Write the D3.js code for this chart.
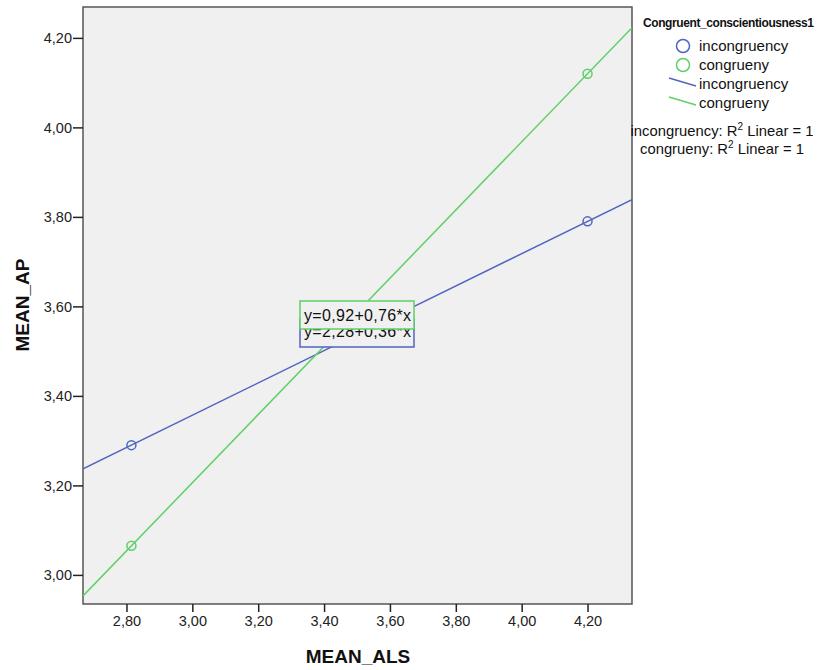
<!DOCTYPE html>
<html>
<head>
<meta charset="utf-8">
<script src="https://cdn.jsdelivr.net/npm/d3@7"></script>
<style>
body { margin: 0; background: #fff; }
text { font-family: Arial, "Liberation Sans", sans-serif; }
</style>
</head>
<body>
<svg width="819" height="670"></svg>
<script>
// data
var groups = ['incongruency', 'congrueny'];
var colors = ['#5165c0', '#5fd066'];
var xs = [2.815, 4.20];
var ysIncong = [3.29, 3.79];
var ysCong = [3.065, 4.12];
var fitLabels = ['y=2,28+0,36*x', 'y=0,92+0,76*x'];
var xTicks = [2.8, 3.0, 3.2, 3.4, 3.6, 3.8, 4.0, 4.2];
var yTicks = [3.0, 3.2, 3.4, 3.6, 3.8, 4.0, 4.2];

var svg = d3.select('svg');
var L = 83, R = 632, T = 7, B = 604;

var x = d3.scaleLinear().domain([2.668, 4.335]).range([L, R]);
var y = d3.scaleLinear().domain([2.935, 4.269]).range([B, T]);
var fmt = function(d) {return d3.format('.2f')(d).replace('.', ',');};

svg.append('rect')
    .attr('x', L).attr('y', T)
    .attr('width', R - L).attr('height', B - T)
    .style('fill', '#f0f0f0')
    .style('stroke', '#555')
    .style('stroke-width', 1.5);

svg.append('clipPath').attr('id', 'clip')
    .append('rect')
    .attr('x', L).attr('y', T)
    .attr('width', R - L).attr('height', B - T);

// axes
var gx = svg.append('g')
    .attr('transform', 'translate(0,' + B + ')')
    .call(d3.axisBottom(x).tickValues(xTicks).tickFormat(fmt).tickSize(8).tickPadding(4));
var gy = svg.append('g')
    .attr('transform', 'translate(' + L + ',0)')
    .call(d3.axisLeft(y).tickValues(yTicks).tickFormat(fmt).tickSize(10).tickPadding(1));
[gx, gy].forEach(function(g) {
    g.select('.domain').remove();
    g.selectAll('line').style('stroke', '#222').style('stroke-width', 1.5);
    g.selectAll('text').style('font-size', '14.5px').style('fill', '#222')
        .style('font-family', 'Arial, "Liberation Sans", sans-serif');
});

// fit lines and points
var series = [ysIncong, ysCong];
var plot = svg.append('g').attr('clip-path', 'url(#clip)');
series.forEach(function(ys, k) {
    var slope = (ys[1] - ys[0]) / (xs[1] - xs[0]);
    var icpt = ys[0] - slope * xs[0];
    var d0 = x.domain();
    plot.append('line')
        .attr('x1', x(d0[0])).attr('y1', y(icpt + slope * d0[0]))
        .attr('x2', x(d0[1])).attr('y2', y(icpt + slope * d0[1]))
        .style('stroke', colors[k])
        .style('stroke-width', 1.5);
    plot.selectAll('.pt' + k)
        .data(xs)
        .enter()
        .append('circle')
        .attr('cx', function(d) {return x(d);})
        .attr('cy', function(d, i) {return y(ys[i]);})
        .attr('r', 4.5)
        .style('fill', 'none')
        .style('stroke', colors[k])
        .style('stroke-width', 1.5);
});

// equation boxes (blue first, green on top)
var boxes = [{top: 319, base: 337, k: 0}, {top: 301, base: 321, k: 1}];
boxes.forEach(function(b) {
    svg.append('rect')
        .attr('x', 300).attr('y', b.top)
        .attr('width', 114).attr('height', 28)
        .style('fill', '#f0f0f0')
        .style('stroke', colors[b.k])
        .style('stroke-width', 1.5);
    svg.append('text')
        .attr('x', 304).attr('y', b.base)
        .attr('textLength', 107)
        .style('font-size', '16px')
        .style('fill', '#111')
        .text(fitLabels[b.k]);
});

// axis titles
svg.append('text')
    .attr('x', 358).attr('y', 663)
    .attr('text-anchor', 'middle')
    .style('font-size', '19px').style('font-weight', 'bold').style('fill', '#111')
    .text('MEAN_ALS');
svg.append('text')
    .attr('transform', 'translate(29,305) rotate(-90)')
    .attr('text-anchor', 'middle')
    .style('font-size', '19px').style('font-weight', 'bold').style('fill', '#111')
    .text('MEAN_AP');

// legend
var lg = svg.append('g');
lg.append('text')
    .attr('x', 643).attr('y', 27)
    .attr('textLength', 171)
    .style('font-size', '12px').style('font-weight', 'bold').style('fill', '#111')
    .text('Congruent_conscientiousness1');
groups.forEach(function(g, i) {
    lg.append('circle')
        .attr('cx', 683).attr('cy', 46 + i * 19)
        .attr('r', 6.5)
        .style('fill', 'none').style('stroke', colors[i]).style('stroke-width', 1.5);
    lg.append('text')
        .attr('x', 699).attr('y', 51 + i * 19)
        .style('font-size', '15px').style('fill', '#111')
        .text(g);
    lg.append('line')
        .attr('x1', 669).attr('y1', 78 + i * 19)
        .attr('x2', 696).attr('y2', 86 + i * 19)
        .style('stroke', colors[i]).style('stroke-width', 1.5);
    lg.append('text')
        .attr('x', 699).attr('y', 89 + i * 19)
        .style('font-size', '15px').style('fill', '#111')
        .text(g);
    var r2 = lg.append('text')
        .attr('x', 722).attr('y', 136 + i * 18)
        .attr('text-anchor', 'middle')
        .style('font-size', '14.8px').style('fill', '#111');
    r2.append('tspan').text(g + ': R');
    r2.append('tspan').attr('dy', -6).style('font-size', '10px').text('2');
    r2.append('tspan').attr('dy', 6).text(' Linear = 1');
});
</script>
</body>
</html>
